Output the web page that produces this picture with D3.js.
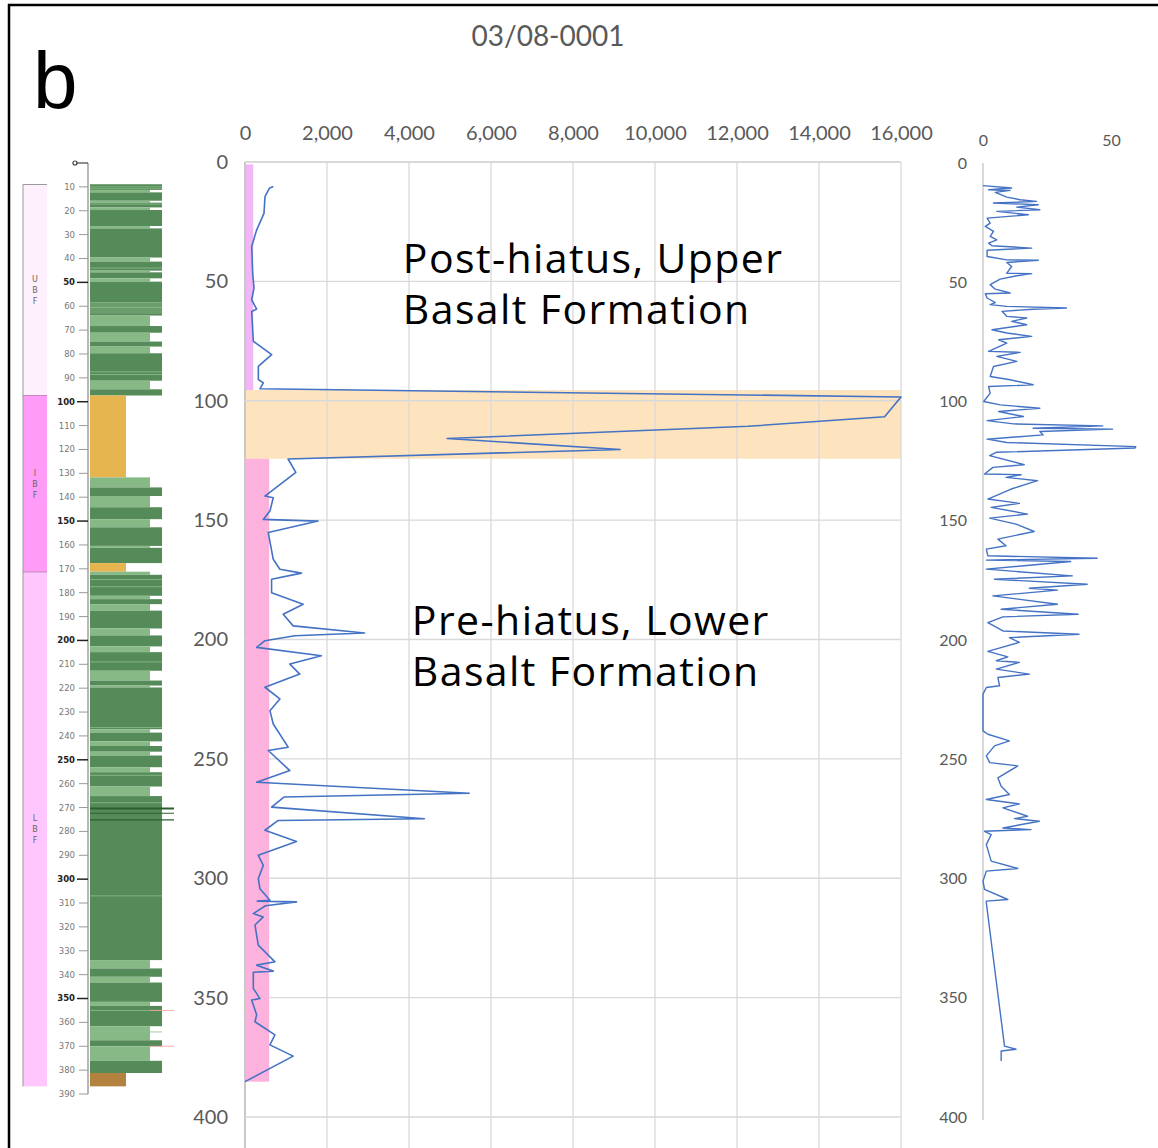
<!DOCTYPE html>
<html><head><meta charset="utf-8">
<script src="https://cdn.jsdelivr.net/npm/d3@7"></script>
<style>body{margin:0;background:#fff;} svg{display:block;}</style>
</head><body><svg id="c" width="1158" height="1148"></svg>
<script>
// ---------- DATA ----------
const title = "03/08-0001";
const panelLetter = "b";
const mainTicksX = [0,2000,4000,6000,8000,10000,12000,14000,16000];
const depthTicks = [0,50,100,150,200,250,300,350,400];
const rightTicksX = [0,50];
const stripTicks = d3.range(10,391,10);

const mainDepth = [10.3,11.0,14.5,21.5,28.4,35.4,46.5,52.8,57.7,61.6,62.6,75.1,80.7,85.6,91.1,92.5,95.0,98.4,106.7,110.7,115.8,120.4,124.4,130.0,139.9,140.6,146.2,149.7,150.4,155.2,166.4,170.6,172.2,174.8,180.4,185.2,189.4,194.3,197.3,198.4,200.5,203.3,206.8,210.3,214.5,220.0,224.9,229.8,235.4,245.1,246.5,254.9,259.8,264.4,266.0,270.2,275.1,275.8,279.9,284.6,290.4,294.6,300.2,304.4,309.2,309.6,309.9,311.5,314.8,316.2,319.6,328.0,335.0,336.4,338.9,339.4,346.1,350.4,351.0,357.2,360.1,365.6,369.8,374.5,385.2];
const mainValue = [690,593,488,463,285,163,187,220,163,285,163,203,650,325,325,447,366,16000,15600,12270,4930,9150,1050,1240,486,689,608,446,1782,567,689,851,1377,648,648,1418,932,1175,2916,1215,486,284,1863,1094,1337,486,851,608,689,1053,567,1094,284,5468,950,648,4374,810,486,1256,324,446,324,365,608,300,1256,500,203,446,243,324,730,284,689,203,203,365,162,284,243,730,608,1175,0];

const rightDepth = [9.5,10.5,11.2,11.5,12.3,14.3,15.4,16.1,16.8,17.5,18.5,19.6,20.3,21.7,23.1,25.2,26.6,28.7,30.8,32.2,33.6,34.7,35.7,36.6,39.2,40.6,40.8,41.7,43.4,46.2,46.4,47.3,48.7,51.0,52.9,54.5,54.8,56.6,58.5,59.4,60.1,60.8,61.3,62.2,64.3,65.0,66.4,67.8,69.9,71.3,72.7,74.1,75.5,79.0,79.4,81.1,83.2,85.3,89.5,90.9,93.0,93.7,96.5,100.0,101.4,102.8,104.2,106.3,108.0,109.4,110.2,111.2,111.6,112.6,114.0,115.8,117.2,118.9,119.5,121.3,122.7,126.5,127.6,130.4,130.7,131.8,133.2,136.7,140.9,142.7,144.4,147.2,148.9,151.4,154.5,157.7,160.5,161.9,164.7,165.7,166.5,167.1,170.3,173.1,174.5,176.6,178.3,179.1,181.5,185.0,187.1,189.2,190.3,192.7,196.2,197.6,199.0,201.0,204.8,207.1,208.7,209.4,212.2,214.3,215.7,219.2,219.9,222.7,238.1,239.5,242.3,244.4,248.6,251.4,252.8,257.8,261.3,264.8,266.9,268.7,270.4,273.9,274.9,276.0,278.8,279.5,280.2,281.6,285.8,292.7,295.8,296.9,301.1,304.6,308.8,309.5,310.2,370.3,371.6,372.3,376.5];
const rightValue = [0,11.2,2.2,10.6,4.8,9.3,14.5,20.9,4.1,21.6,13.2,22.2,5.4,17.7,1.6,2.8,0.9,4.1,2.8,5.4,2.2,3.5,19,1.6,1.6,9.3,21.6,9.3,11.2,9.3,19,13.2,6.7,2.8,4.8,10.6,0.9,1.6,4.8,2.8,9.3,32.6,19.6,7.4,9.3,17.1,11.2,17.1,3.5,9.3,19,6.1,9.3,2.2,14.5,5.4,13.2,4.1,2.8,10.6,19.6,2.2,2.8,0.3,6.7,22.2,6.1,15.8,1.6,11.9,46.8,19.6,50.6,22.2,23.5,1.6,9.3,59.7,59.4,5.2,2.6,16.1,3.9,0.6,14.9,9.0,21.3,11.0,1.9,14.2,3.2,17.4,2.6,12.9,20.0,5.8,9.0,1.3,1.9,44.6,1.3,34.2,1.3,34.9,4.5,40.7,18.1,29.1,3.9,29.1,7.1,37.2,7.8,1.9,7.8,37.5,10.3,14.2,1.9,9.7,5.2,14.2,5.2,18.1,5.8,6.5,1.3,0,0,1.9,10.3,4.5,1.3,2.6,13.6,5.8,7.1,10.3,1.3,14.2,7.8,17.4,12.3,22.0,7.8,18.7,0.6,3.2,1.3,3.2,13.6,1.3,0,0.6,9.7,1.3,1.3,8.4,12.9,7.1,7.1];

// formation bars in main chart
const barTop = [1, 124.3];
const barBase = [95.5, 385.2];
const barValue = [200, 590];
const hiatusTop = 95.5, hiatusBase = 124.3;

// formation column in left strip
const formName = ["UBF","IBF","LBF"];
const formTop = [9.0, 97.4, 171.3];
const formBase = [97.4, 171.3, 386.8];

// lithology column
const lithoTop =  [8.9,11.3,12.3,15.8,16.6,18.6,19.7,26.4,27.4,39.6,41.3,45.1,45.8,48.3,49.7,58.5,62.9,63.9,68.3,71.1,74.8,76.9,79.7,91.2,94.8,97.4,131.7,135.9,139.5,144.2,149.2,152.6,160.4,161.2,167.6,171.2,172.5,181.3,182.7,184.8,187.5,195.0,197.9,202.5,204.9,212.7,216.8,218.9,219.7,237.2,238.6,242.3,244.2,246.6,248.2,253.1,255.2,261.2,265.2,333.9,337.4,340.9,343.3,351.4,353.1,361.6,367.5,370.0,376.1,381.2];
const lithoBase = [11.3,12.3,15.8,16.6,18.6,19.7,26.4,27.4,39.6,41.3,45.1,45.8,48.3,49.7,58.5,62.9,63.9,68.3,71.1,74.8,76.9,79.7,91.2,94.8,97.4,131.7,135.9,139.5,144.2,149.2,152.6,160.4,161.2,167.6,171.2,172.5,181.3,182.7,184.8,187.5,195.0,197.9,202.5,204.9,212.7,216.8,218.9,219.7,237.2,238.6,242.3,244.2,246.6,248.2,253.1,255.2,261.2,265.2,333.9,337.4,340.9,343.3,351.4,353.1,361.6,367.5,370.0,376.1,381.2,386.8];
const lithoType = ["d","l","d","l","d","l","d","l","d","l","d","l","d","l","d","m","d","l","d","l","d","l","d","l","d","o","l","d","l","d","l","d","l","d","o","l","d","l","d","l","d","l","d","l","d","l","d","l","d","l","d","l","d","l","d","l","d","l","d","l","d","l","d","l","d","l","d","l","d","b"];
const bedLines = [10.0,10.8,17.2,44.0,60.5,87.5,88.6,174.5,177.5,209.0,236.5,256.5,268.0,307.0,355.0,364.0];
const markerDark = [270.4, 272.4, 275.2];
const markerRed = [355.0, 370.0];

const annotations = [
  {lines:["Post-hiatus, Upper","Basalt Formation"], x:3850, y:40},
  {lines:["Pre-hiatus, Lower","Basalt Formation"], x:4070, y:192}
];

// ---------- DRAW ----------
const svg = d3.select("#c");
const labelFont = "Lato, 'Open Sans', sans-serif";
const gray = "#595959";

// frame
svg.append("path").attr("d","M9,1148 V5 H1160").attr("fill","none").attr("stroke","#000").attr("stroke-width",2.5);

svg.append("text").attr("x",548).attr("y",46).attr("text-anchor","middle")
  .attr("font-family",labelFont).attr("font-size",28).attr("fill",gray).text(title);
svg.append("text").attr("x",33).attr("y",108)
  .attr("font-family","'Liberation Sans', Arial, sans-serif").attr("font-size",80).attr("fill","#000").text(panelLetter);

// ===== main chart =====
const x = d3.scaleLinear().domain([0,16000]).range([245,901]);
const y = d3.scaleLinear().domain([0,400]).range([162,1117]);

// hiatus band
svg.append("rect").attr("x",x(0)).attr("width",x(16000)-x(0))
  .attr("y",y(hiatusTop)).attr("height",y(hiatusBase)-y(hiatusTop)).attr("fill","#fde4bf");

const grid = svg.append("g");
grid.selectAll("line.v").data(mainTicksX).join("line").attr("class","v")
  .attr("x1",d=>x(d)).attr("x2",d=>x(d)).attr("y1",y(0)).attr("y2",1148)
  .attr("stroke",d=>d===0?"#c8c8c8":"#d9d9d9").attr("stroke-width",d=>d===0?2:1.3);
grid.selectAll("line.h").data(depthTicks).join("line").attr("class","h")
  .attr("x1",x(0)).attr("x2",x(16000)).attr("y1",d=>y(d)).attr("y2",d=>y(d))
  .attr("stroke","#d9d9d9").attr("stroke-width",d=>d===0?2:1.3);

// formation bars
const barColors = ["#f2b6f8","#fdb1dd"];
svg.selectAll("rect.fbar").data(barTop).join("rect").attr("class","fbar")
  .attr("x",x(0)+1).attr("width",(d,i)=>x(barValue[i])-x(0)-1)
  .attr("y",d=>y(d)).attr("height",(d,i)=>y(barBase[i])-y(d))
  .attr("fill",(d,i)=>barColors[i]);

// axes
const topAx = svg.append("g").attr("transform",`translate(0,${y(0)})`)
  .call(d3.axisTop(x).tickValues(mainTicksX).tickFormat(d3.format(",")).tickSize(0).tickPadding(22));
const leftAx = svg.append("g").attr("transform",`translate(${x(0)},0)`)
  .call(d3.axisLeft(y).tickValues(depthTicks).tickSize(0).tickPadding(17));
[topAx,leftAx].forEach(g=>{
  g.select(".domain").remove();
  g.selectAll("text").attr("font-family",labelFont).attr("font-size",20).attr("fill",gray);
});

// main line
const mainPts = mainDepth.map((d,i)=>[mainValue[i],d]);
svg.append("path").datum(mainPts)
  .attr("d",d3.line().x(p=>x(p[0])).y(p=>y(p[1])))
  .attr("fill","none").attr("stroke","#4472c4").attr("stroke-width",1.6).attr("stroke-linejoin","round");

// annotations
annotations.forEach(a=>{
  a.lines.forEach((t,k)=>{
    svg.append("text").attr("x",x(a.x)).attr("y",y(a.y)+k*51 + 15)
      .attr("font-family","'Open Sans', sans-serif").attr("font-size",41)
      .attr("letter-spacing",1.4).attr("fill","#000").text(t);
  });
});

// ===== right chart =====
const xr = d3.scaleLinear().domain([0,50]).range([983,1111]);
const yr = d3.scaleLinear().domain([0,400]).range([163,1117]);
svg.append("line").attr("x1",xr(0)).attr("x2",xr(0)).attr("y1",yr(0)).attr("y2",yr(400)+3)
  .attr("stroke","#d9d9d9").attr("stroke-width",2);
const rTop = svg.append("g").attr("transform",`translate(0,${yr(0)})`)
  .call(d3.axisTop(xr).tickValues(rightTicksX).tickSize(0).tickPadding(17));
const rLeft = svg.append("g").attr("transform",`translate(${xr(0)},0)`)
  .call(d3.axisLeft(yr).tickValues(depthTicks).tickSize(0).tickPadding(16));
[rTop,rLeft].forEach(g=>{
  g.select(".domain").remove();
  g.selectAll("text").attr("font-family",labelFont).attr("font-size",16).attr("fill",gray);
});
const rightPts = rightDepth.map((d,i)=>[rightValue[i],d]);
svg.append("path").datum(rightPts)
  .attr("d",d3.line().x(p=>xr(p[0])).y(p=>yr(p[1])))
  .attr("fill","none").attr("stroke","#4472c4").attr("stroke-width",1.4).attr("stroke-linejoin","round");

// ===== left strip log =====
const ys = d3.scaleLinear().domain([0,390]).range([163,1094]);
const formColors = ["#fff0fe","#ff9cf8","#ffc6fd"];
svg.selectAll("rect.form").data(formName).join("rect").attr("class","form")
  .attr("x",23).attr("width",24)
  .attr("y",(d,i)=>ys(formTop[i])).attr("height",(d,i)=>ys(formBase[i])-ys(formTop[i]))
  .attr("fill",(d,i)=>formColors[i]);
svg.append("path").attr("d",`M47,${ys(formTop[0])} H23 V${ys(formBase[2])}`)
  .attr("fill","none").attr("stroke","#999").attr("stroke-width",1);
svg.selectAll("line.fsep").data([formTop[1],formTop[2]]).join("line").attr("class","fsep")
  .attr("x1",23).attr("x2",47).attr("y1",d=>ys(d)).attr("y2",d=>ys(d)).attr("stroke","#b07ab0").attr("stroke-width",0.8);
formName.forEach((n,i)=>{
  const mid = (ys(formTop[i])+ys(formBase[i]))/2;
  n.split("").forEach((ch,k)=>{
    svg.append("text").attr("x",35).attr("y",mid - 8 + k*11).attr("text-anchor","middle")
      .attr("font-family","'DejaVu Sans', sans-serif").attr("font-size",8).attr("fill","#666").text(ch);
  });
});

const lithoColor = {d:"#558b58",l:"#87b987",m:"#6a9d6b",o:"#e7b54f",b:"#b4823f"};
const lithoRight = {d:162,l:150,m:162,o:126,b:126};
svg.selectAll("rect.lith").data(lithoTop).join("rect").attr("class","lith")
  .attr("x",90).attr("width",(d,i)=>lithoRight[lithoType[i]]-90)
  .attr("y",d=>ys(d)).attr("height",(d,i)=>ys(lithoBase[i])-ys(d))
  .attr("fill",(d,i)=>lithoColor[lithoType[i]]);
svg.selectAll("line.bed").data(bedLines).join("line").attr("class","bed")
  .attr("x1",90).attr("x2",162).attr("y1",d=>ys(d)).attr("y2",d=>ys(d))
  .attr("stroke","#8fbf8f").attr("stroke-width",0.8);
svg.selectAll("line.mk").data(markerDark).join("line").attr("class","mk")
  .attr("x1",90).attr("x2",174).attr("y1",d=>ys(d)).attr("y2",d=>ys(d))
  .attr("stroke","#2c5f2f").attr("stroke-width",(d,i)=>i===0?2:1.2);
svg.selectAll("line.mr").data(markerRed).join("line").attr("class","mr")
  .attr("x1",150).attr("x2",174).attr("y1",d=>ys(d)).attr("y2",d=>ys(d))
  .attr("stroke","#ff9a9a").attr("stroke-width",0.8);

// strip axis
svg.append("line").attr("x1",88).attr("x2",88).attr("y1",ys(0)).attr("y2",ys(390))
  .attr("stroke","#888").attr("stroke-width",1.2);
svg.selectAll("line.st").data(stripTicks).join("line").attr("class","st")
  .attr("x1",d=>d%50===0?77:79).attr("x2",88).attr("y1",d=>ys(d)).attr("y2",d=>ys(d))
  .attr("stroke",d=>d%50===0?"#222":"#999").attr("stroke-width",d=>d%50===0?1.5:1);
svg.selectAll("text.st").data(stripTicks).join("text").attr("class","st")
  .attr("x",75).attr("y",d=>ys(d)).attr("dy","0.35em").attr("text-anchor","end")
  .attr("font-family","'DejaVu Sans', sans-serif").attr("font-size",8.5)
  .attr("font-weight",d=>d%50===0?"bold":"normal")
  .attr("fill",d=>d%50===0?"#222":"#777").text(d=>d);
svg.append("line").attr("x1",76).attr("x2",88).attr("y1",ys(0)).attr("y2",ys(0)).attr("stroke","#444").attr("stroke-width",1.2);
svg.append("circle").attr("cx",75).attr("cy",ys(0)).attr("r",2).attr("fill","none").attr("stroke","#444").attr("stroke-width",1.2);
</script></body></html>
